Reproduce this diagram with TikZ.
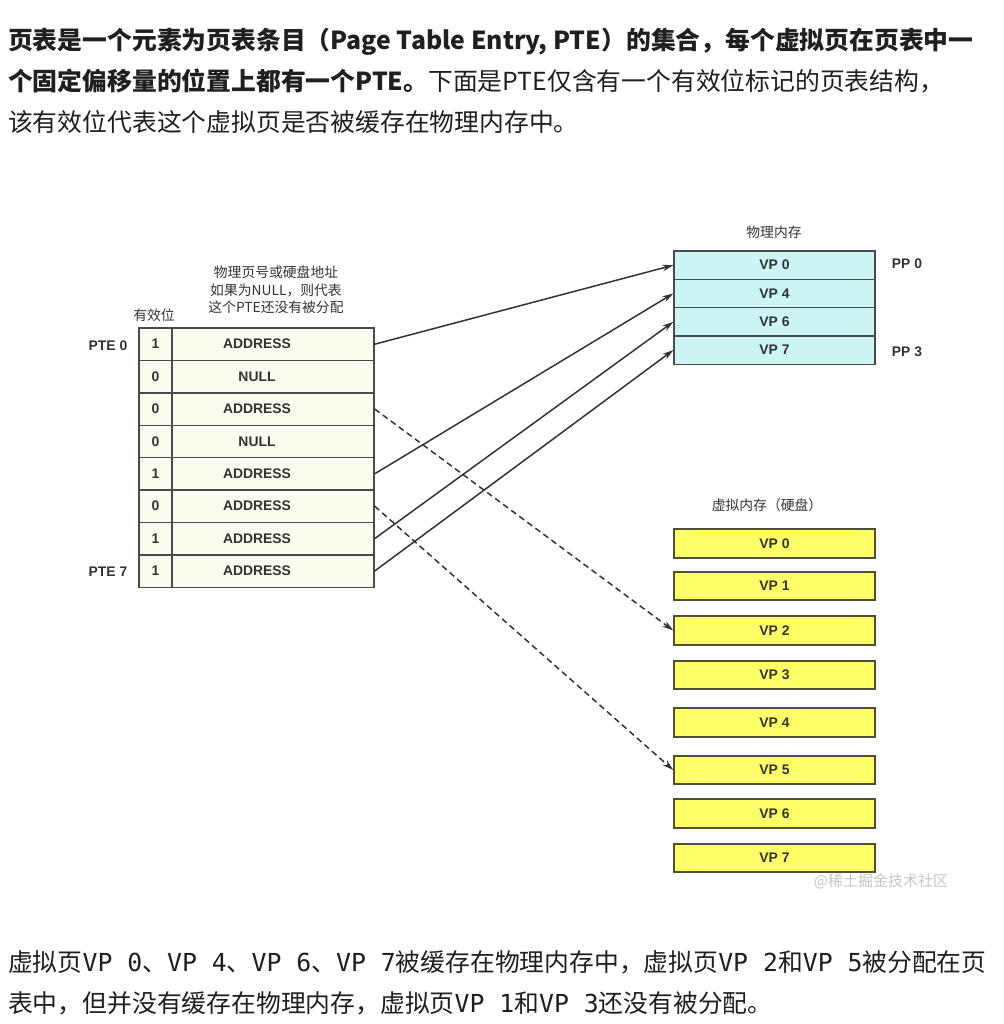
\documentclass[tikz,border=0pt]{standalone}
\usepackage{fontspec}
\setmainfont{Noto Sans CJK SC}
\newfontfamily\arialfont{Liberation Sans}
\newfontfamily\codefont{DejaVu Sans Mono}
\usetikzlibrary{arrows.meta}

\definecolor{tablefill}{HTML}{FBFBEF}
\definecolor{memfill}{HTML}{CCF6F6}
\definecolor{diskfill}{HTML}{FFFF66}
\definecolor{linegray}{HTML}{4A4A4A}
\definecolor{diskline}{HTML}{4F4F3A}
\definecolor{textgray}{HTML}{333333}

\begin{document}
\begin{tikzpicture}[x=1pt,y=-1pt,
    cell/.style={draw=linegray, fill=tablefill, line width=1.4pt, inner sep=0pt, minimum height=32.4pt},
    bitcell/.style={cell, minimum width=33pt},
    addrcell/.style={cell, minimum width=202pt},
    memcell/.style={draw=linegray, fill=memfill, line width=1.4pt, inner sep=0pt, minimum width=201pt, minimum height=28.3pt},
    diskcell/.style={draw=diskline, fill=diskfill, line width=1.6pt, inner sep=0pt, minimum width=201pt, minimum height=28.5pt},
    lab/.style={font=\arialfont\bfseries\fontsize{13.9}{16}\selectfont, text=textgray},
    cjklab/.style={font=\fontsize{13.8}{17.5}\selectfont, text=textgray, align=center},
    para/.style={anchor=west, inner sep=0pt, font=\fontsize{24.8}{30}\selectfont, text=black!88},
    mapped/.style={-{Stealth[length=11pt,width=6.5pt]}, line width=1.5pt, draw=textgray},
    ondisk/.style={mapped, dash pattern=on 6pt off 4pt}]
    \useasboundingbox[fill=white] (0,0) rectangle (1003,1024);

    % Text above the figure
    \node[para] (top1) at (8,42) {\bfseries 页表是一个元素为页表条目（Page Table Entry, PTE）的集合，每个虚拟页在页表中一};
    \node[para] (top2) at (8,81) {{\bfseries 个固定偏移量的位置上都有一个PTE。}下面是PTE仅含有一个有效位标记的页表结构，};
    \node[para] (top3) at (8,122) {该有效位代表这个虚拟页是否被缓存在物理内存中。};

    % Page table
    \foreach \b/\t [count=\i from 0] in {1/ADDRESS,0/NULL,0/ADDRESS,0/NULL,1/ADDRESS,0/ADDRESS,1/ADDRESS,1/ADDRESS} {
        \node[bitcell, lab] (v\i) at (155.5,{344.2+32.4*\i}) {\b};
        \node[addrcell, label={[lab, xshift=-16pt]center:\t}] (a\i) at (273,{344.2+32.4*\i}) {};
    }
    \node[lab] (pte0) at (108,346) {PTE 0};
    \node[lab] (pte7) at (108,572) {PTE 7};
    \node[cjklab] (validlab) at (154,315) {有效位};
    \node[cjklab] (note) at (276,290) {物理页号或硬盘地址\\如果为NULL，则代表\\这个PTE还没有被分配};

    % Physical memory
    \foreach \t [count=\i from 0] in {VP 0,VP 4,VP 6,VP 7} {
        \node[memcell, lab] (pp\i) at (774.5,{265.2+28.3*\i}) {\t};
    }
    \node[cjklab] (memlab) at (774,232) {物理内存};
    \node[lab] (ppfirst) at (907,264) {PP 0};
    \node[lab] (pplast) at (907,352) {PP 3};

    % Virtual memory (disk)
    \foreach \y [count=\i from 0] in {543.5,586,630.5,675,722.5,770,813.5,858} {
        \node[diskcell, lab] (vp\i) at (774.5,\y) {VP \i};
    }
    \node[cjklab] (disklab) at (767,505) {虚拟内存（硬盘）};
    \node[text=gray!45, font=\fontsize{15}{18}\selectfont] (mark) at (881,881) {@稀土掘金技术社区};

    % Cached pages
    \draw[mapped] (a0.east) -- (pp0.west);
    \draw[mapped] (a4.east) -- (pp1.west);
    \draw[mapped] (a6.east) -- (pp2.west);
    \draw[mapped] (a7.east) -- (pp3.west);

    % Allocated, not cached
    \draw[ondisk] (a2.east) -- (vp2.west);
    \draw[ondisk] (a5.east) -- (vp5.west);

    % Text below the figure
    \node[para] (bot1) at (8,962) {虚拟页{\codefont VP 0}、{\codefont VP 4}、{\codefont VP 6}、{\codefont VP 7}被缓存在物理内存中，虚拟页{\codefont VP 2}和{\codefont VP 5}被分配在页};
    \node[para] (bot2) at (8,1003) {表中，但并没有缓存在物理内存，虚拟页{\codefont VP 1}和{\codefont VP 3}还没有被分配。};
\end{tikzpicture}
\end{document}
